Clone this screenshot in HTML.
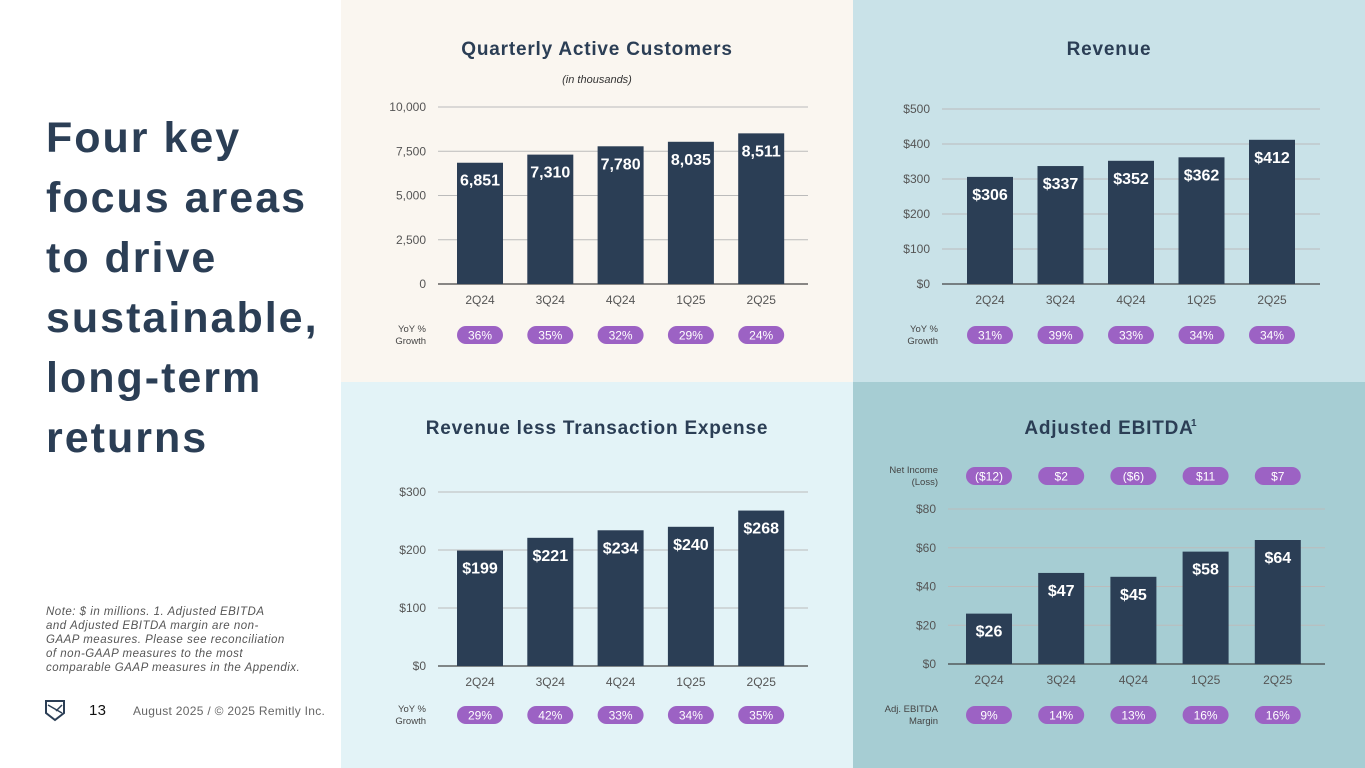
<!DOCTYPE html>
<html><head><meta charset="utf-8">
<style>
body{margin:0;width:1365px;height:768px;overflow:hidden;background:#fff;font-family:"Liberation Sans",sans-serif;position:relative}
.h{position:absolute;left:46px;top:108px;font-size:43px;line-height:60px;font-weight:bold;color:#2b3e55;letter-spacing:2px}
.note{position:absolute;left:46px;top:605px;font-size:11.5px;line-height:14px;font-style:italic;color:#555;letter-spacing:0.5px}
.foot{position:absolute;top:704px;font-size:12px;color:#666;letter-spacing:0.3px}
svg{position:absolute;left:0;top:0}
</style></head><body>
<div class="h">Four key<br>focus areas<br>to drive<br>sustainable,<br>long-term<br>returns</div>
<div class="note">Note: $ in millions. 1. Adjusted EBITDA<br>and Adjusted EBITDA margin are non-<br>GAAP measures. Please see reconciliation<br>of non-GAAP measures to the most<br>comparable GAAP measures in the Appendix.</div>
<svg width="30" height="30" style="left:44px;top:699px"><path d="M2 2h18v12l-9 7-9-7z" fill="none" stroke="#2b3e55" stroke-width="2"/><path d="M4 6l14 8M18 6l-6 6" stroke="#2b3e55" stroke-width="1.5"/></svg>
<div class="foot" style="left:89px;font-size:15px;top:702px;color:#111">13</div>
<div class="foot" style="left:133px">August 2025 / © 2025 Remitly Inc.</div>
<svg id="c" width="1365" height="768"></svg>
<script>
const cats=["2Q24","3Q24","4Q24","1Q25","2Q25"];
const custVals=[6851,7310,7780,8035,8511];
const custLabels=["6,851","7,310","7,780","8,035","8,511"];
const custTicks=[0,2500,5000,7500,10000];
const custTickLabels=["0","2,500","5,000","7,500","10,000"];
const custYoY=["36%","35%","32%","29%","24%"];
const revVals=[306,337,352,362,412];
const revTicks=[0,100,200,300,400,500];
const revYoY=["31%","39%","33%","34%","34%"];
const rlteVals=[199,221,234,240,268];
const rlteTicks=[0,100,200,300];
const rlteYoY=["29%","42%","33%","34%","35%"];
const ebVals=[26,47,45,58,64];
const ebTicks=[0,20,40,60,80];
const ebMargin=["9%","14%","13%","16%","16%"];
const netIncome=["($12)","$2","($6)","$11","$7"];
const svg=document.getElementById('c');const NS='http://www.w3.org/2000/svg';
function el(t,a,txt){const e=document.createElementNS(NS,t);for(const k in a)e.setAttribute(k,a[k]);if(txt!==undefined)e.textContent=txt;svg.appendChild(e);return e;}
function panel(o){
 const bg=el('rect',{x:o.px,y:o.py,width:o.pw,height:o.ph,fill:o.bg});
 
 
 const t=el('text',{x:o.tx,y:o.ty,'text-anchor':'middle','font-size':19,'font-weight':'bold',fill:'#2b3e55','letter-spacing':0.8},o.title);
 
 
 if(o.sup){const s=el('text',{x:o.tx+82,y:o.ty-8,'font-size':10,'font-weight':'bold',fill:'#2b3e55'},'1');}
 if(o.sub){const s=el('text',{x:o.tx,y:o.ty+28,'text-anchor':'middle','font-size':11,'font-style':'italic',fill:'#333'},o.sub);}
 const max=o.ticks[o.ticks.length-1];
 const y=v=>o.y0-(v/max)*(o.y0-o.ytop);
 o.ticks.forEach((tv,i)=>{
  const g=el('line',{x1:o.gx1,x2:o.gx2,y1:y(tv),y2:y(tv),stroke:i==0?'#444':'#bbb','stroke-width':i==0?1.3:1});
  
  
  const l=el('text',{x:o.gx1-12,y:y(tv)+4,'text-anchor':'end','font-size':12,fill:'#555'},o.tickLabels?o.tickLabels[i]:'$'+tv);
  
  
 });
 cats.forEach((c,i)=>{
  const cx=o.cx0+i*o.step,v=o.vals[i];
  const b=el('rect',{x:cx-23,y:y(v),width:46,height:o.y0-y(v),fill:'#2b3e55'});
  
  
  const vl=el('text',{x:cx,y:y(v)+23,'text-anchor':'middle','font-size':16,'font-weight':'bold',fill:'#fff'},o.labels?o.labels[i]:'$'+v);
  
  
  const xl=el('text',{x:cx,y:o.y0+20,'text-anchor':'middle','font-size':12,fill:'#555'},c);
  
  
  o.pills.forEach(p=>{
   const r=el('rect',{x:cx-23,y:p.y-9,width:46,height:18,rx:9,fill:'#9c62c4'});
   
   
   const pt=el('text',{x:cx,y:p.y+4.5,'text-anchor':'middle','font-size':12,fill:'#fff'},p.vals[i]);
   
   
  });
 });
 o.pills.forEach(p=>{
  p.lab.forEach((s,j)=>{
   const a=el('text',{x:o.labX,y:p.y-3+j*12,'text-anchor':'end','font-size':9.5,fill:'#444'},s);
   
   
  });
 });
}
panel({name:'customers',px:341,py:0,pw:512,ph:382,bg:'#faf6f0',tx:597,ty:55,title:'Quarterly Active Customers',sub:'(in thousands)',
 ticks:custTicks,tickLabels:custTickLabels,vals:custVals,labels:custLabels,y0:284,ytop:107,gx1:438,gx2:808,cx0:480,step:70.3,labX:426,
 pills:[{name:'yoy-growth',y:335,vals:custYoY,lab:['YoY %','Growth']}]});
panel({name:'revenue',px:853,py:0,pw:512,ph:382,bg:'#c9e2e8',tx:1109,ty:55,title:'Revenue',
 ticks:revTicks,vals:revVals,y0:284,ytop:109,gx1:942,gx2:1320,cx0:990,step:70.5,labX:938,
 pills:[{name:'yoy-growth',y:335,vals:revYoY,lab:['YoY %','Growth']}]});
panel({name:'rlte',px:341,py:382,pw:512,ph:386,bg:'#e3f3f7',tx:597,ty:434,title:'Revenue less Transaction Expense',
 ticks:rlteTicks,vals:rlteVals,y0:666,ytop:492,gx1:438,gx2:808,cx0:480,step:70.3,labX:426,
 pills:[{name:'yoy-growth',y:715,vals:rlteYoY,lab:['YoY %','Growth']}]});
panel({name:'adj-ebitda',px:853,py:382,pw:512,ph:386,bg:'#a6cdd3',tx:1109,ty:434,title:'Adjusted EBITDA',sup:true,
 ticks:ebTicks,vals:ebVals,y0:664,ytop:509,gx1:948,gx2:1325,cx0:989,step:72.2,labX:938,
 pills:[{name:'net-income',y:476,vals:netIncome,lab:['Net Income','(Loss)']},{name:'ebitda-margin',y:715,vals:ebMargin,lab:['Adj. EBITDA','Margin']}]});
</script>
</body></html>
